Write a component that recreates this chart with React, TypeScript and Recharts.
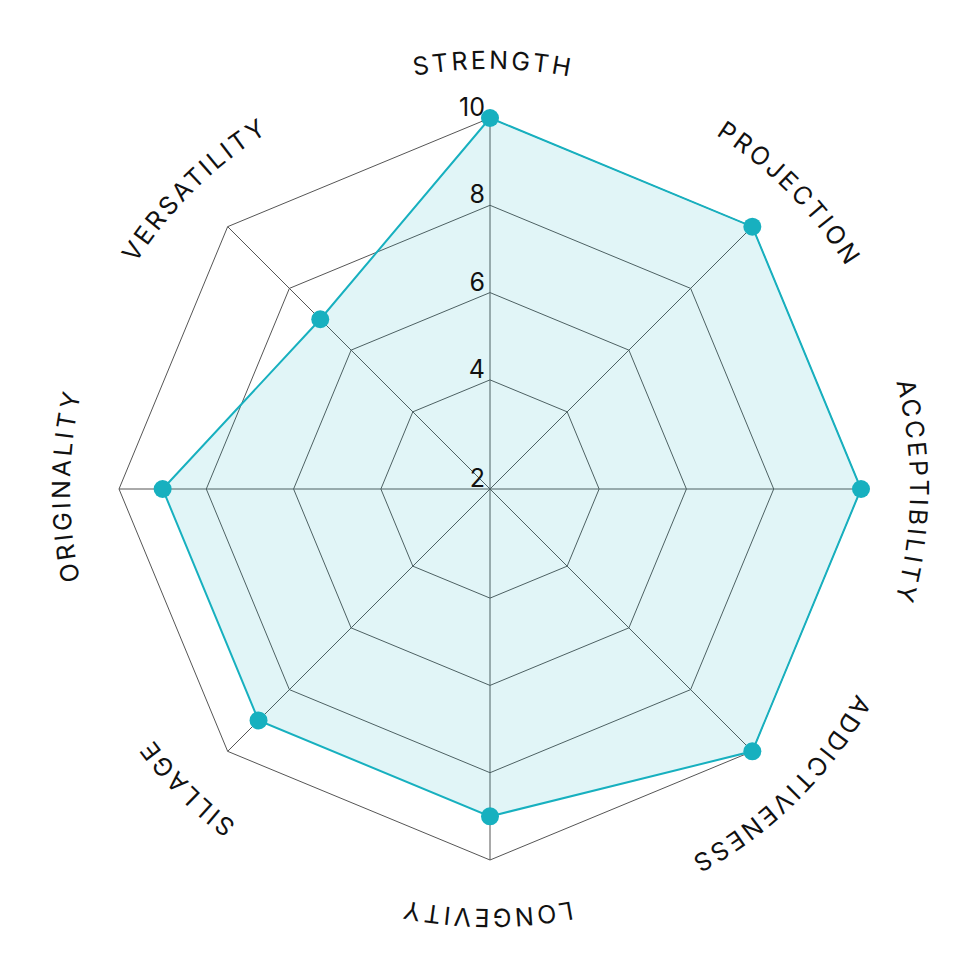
import React from 'react';
import { RadarChart, Radar, PolarGrid, PolarAngleAxis, PolarRadiusAxis } from 'recharts';

const CATEGORIES = [
  'STRENGTH',
  'PROJECTION',
  'ACCEPTIBILITY',
  'ADDICTIVENESS',
  'LONGEVITY',
  'SILLAGE',
  'ORIGINALITY',
  'VERSATILITY',
];
const SCORES = [10, 10, 10, 10, 9, 9, 9, 7];
// scale starts at 1.5 (shown rounded as "2" at the centre)
const RADIUS_DOMAIN = [1.5, 10];
const RADIUS_TICKS = [1.5, 4, 6, 8, 10];

const data = CATEGORIES.map((name, i) => ({ name, score: SCORES[i] }));

const SIZE = 980;
const CX = 490;
const CY = 489;
const OUTER = 371;
const LABEL_R = 420;
const TEAL = '#17b0bf';
const FONT = 'Inter, "Noto Sans", sans-serif';

// category labels are written along a circular arc around the chart
const AngleTick = (props: any) => {
  const { x, y, payload, index } = props;
  const theta = Math.atan2(x - CX, CY - y); // clockwise from top
  const span = (70 * Math.PI) / 180;
  const a1 = theta - span;
  const a2 = theta + span;
  const x1 = CX + LABEL_R * Math.sin(a1);
  const y1 = CY - LABEL_R * Math.cos(a1);
  const x2 = CX + LABEL_R * Math.sin(a2);
  const y2 = CY - LABEL_R * Math.cos(a2);
  const id = `label-arc-${index}`;
  const mid = LABEL_R * span + 3; // half arc length, nudged for trailing letter spacing
  return (
    <g>
      <path id={id} d={`M${x1},${y1} A${LABEL_R},${LABEL_R} 0 0 1 ${x2},${y2}`} fill="none" stroke="none" />
      <text fontSize={25} fontFamily={FONT} fill="#111" letterSpacing={3}>
        <textPath href={`#${id}`} startOffset={mid} textAnchor="middle">
          {payload.value}
        </textPath>
      </text>
    </g>
  );
};

const RadiusTick = (props: any) => {
  const { x, y, payload } = props;
  return (
    <text x={x - 5} y={y - 2} textAnchor="end" fontSize={25} fontFamily={FONT} fill="#111">
      {Number(payload.value).toFixed(0)}
    </text>
  );
};

const App: React.FC = () => {
  return (
    <div style={{ width: SIZE, height: SIZE, background: '#fff' }}>
      <style>{'body { margin: 0; }'}</style>
      <RadarChart width={SIZE} height={SIZE} data={data} cx={CX} cy={CY} outerRadius={OUTER}>
        <PolarGrid stroke="#555" strokeWidth={1} />
        <PolarAngleAxis dataKey="name" axisLine={false} tickLine={false} tick={<AngleTick />} />
        <Radar
          dataKey="score"
          stroke={TEAL}
          strokeWidth={2}
          fill={TEAL}
          fillOpacity={0.13}
          dot={{ r: 9, fill: TEAL, fillOpacity: 1, stroke: 'none' }}
          isAnimationActive={false}
        />
        <PolarRadiusAxis
          angle={90}
          type="number"
          domain={RADIUS_DOMAIN}
          ticks={RADIUS_TICKS}
          axisLine={false}
          tickLine={false}
          tick={<RadiusTick />}
        />
      </RadarChart>
    </div>
  );
};

export default App;
